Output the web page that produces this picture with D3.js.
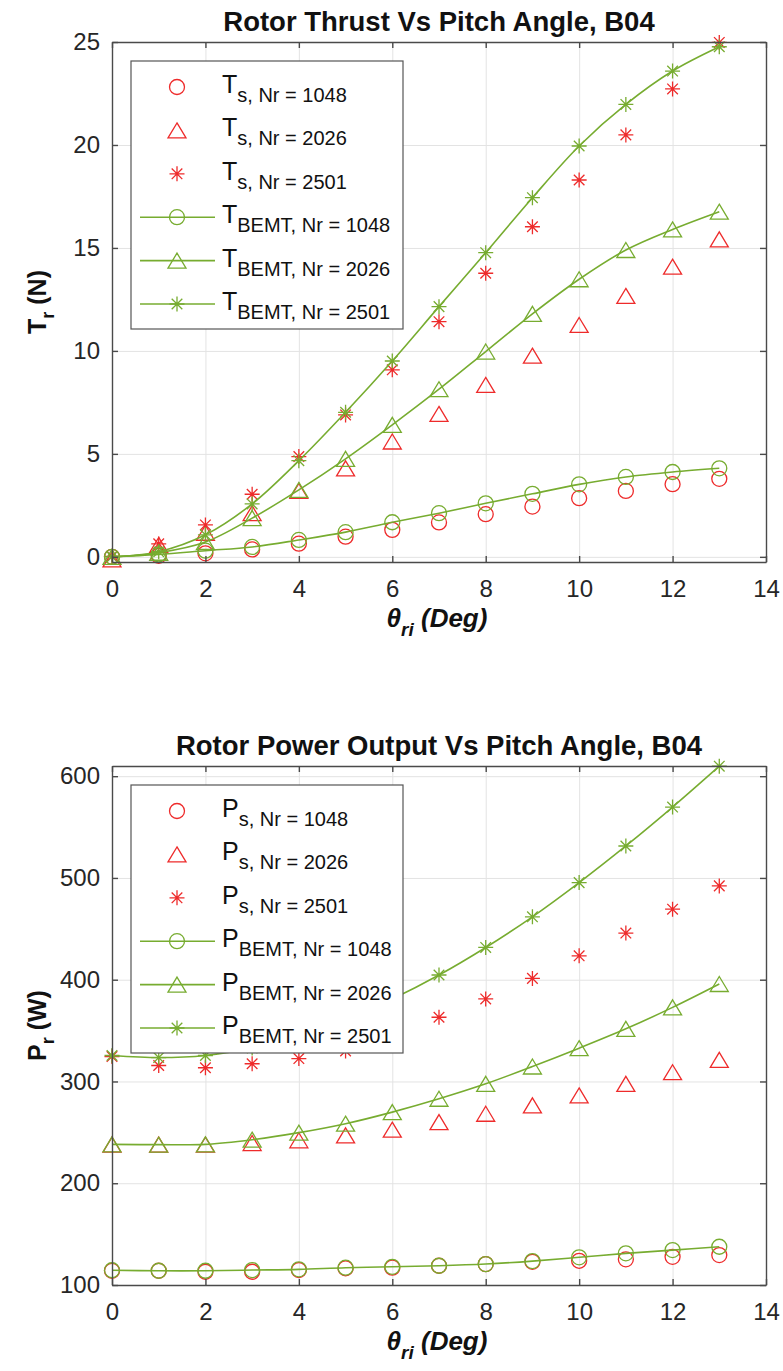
<!DOCTYPE html>
<html>
<head>
<meta charset="utf-8">
<script src="https://cdn.jsdelivr.net/npm/d3@7"></script>
<style>
  body { margin: 0; background: #fff; }
  svg { display: block; font-family: "Liberation Sans", Arial, Helvetica, sans-serif; }
  .grid line { stroke: #e3e3e3; stroke-width: 1; }
  .grid .domain { display: none; }
  .axis path, .axis line { stroke: #4a4a4a; stroke-width: 1.4; }
  .axis text { fill: #262626; font-size: 24px; }
</style>
</head>
<body>
<div id="chart"></div>
<script>
// ---- data ----
const pitch = [0, 1, 2, 3, 4, 5, 6, 7, 8, 9, 10, 11, 12, 13];

// rotor thrust (N)
const thrustS1048 = [0, 0.05, 0.17, 0.36, 0.64, 0.98, 1.31, 1.67, 2.07, 2.44, 2.85, 3.2, 3.53, 3.79];
const thrustS2026 = [-0.12, 0.58, 1.17, 2.12, 3.2, 4.3, 5.6, 6.94, 8.35, 9.77, 11.26, 12.67, 14.09, 15.42];
const thrustS2501 = [0.02, 0.63, 1.55, 3.04, 4.87, 6.89, 9.08, 11.42, 13.77, 16.03, 18.3, 20.49, 22.72, 24.98];
const thrustB1048 = [0, 0.12, 0.3, 0.48, 0.82, 1.2, 1.68, 2.12, 2.6, 3.06, 3.52, 3.88, 4.12, 4.3];
const thrustB2026 = [0, 0.2, 0.72, 1.88, 3.25, 4.76, 6.41, 8.14, 9.97, 11.8, 13.48, 14.9, 15.9, 16.76];
const thrustB2501 = [0, 0.25, 1.07, 2.57, 4.67, 7.02, 9.51, 12.15, 14.77, 17.44, 19.95, 21.97, 23.59, 24.77];

// rotor power output (W)
const powerS1048 = [114, 114, 113, 113, 114.7, 116.4, 117, 118.9, 120.6, 122.8, 123.8, 125.2, 127.7, 129.4];
const powerS2026 = [238, 238, 237.9, 239.5, 242.2, 247.1, 252.6, 260.1, 268.3, 276.5, 286.3, 297.7, 309.1, 321.3];
const powerS2501 = [324.5, 315.7, 313.5, 317.4, 322.5, 330, 345, 363.1, 381.1, 401.3, 423.5, 445.8, 469.3, 492.2];
const powerB1048 = [114.5, 114, 114, 114.7, 115.4, 117, 117.9, 118.9, 120.6, 123.5, 127.2, 131.1, 134.3, 137.6];
const powerB2026 = [238.2, 237.9, 238.2, 242.8, 249.7, 258.5, 269.9, 283, 297.7, 314.7, 332.7, 351.7, 372.8, 395.8];
const powerB2501 = [325.5, 323.5, 325.5, 333, 345, 361, 381, 404.6, 431.7, 461.8, 495.4, 531.4, 569.6, 609.8];

const xTicks = [0, 2, 4, 6, 8, 10, 12, 14];
const thrustTicks = [0, 5, 10, 15, 20, 25];
const powerTicks = [100, 200, 300, 400, 500, 600];
const speeds = ['1048', '2026', '2501'];

const RED = '#ee2b2b', GREEN = '#77ac30';
const W = 783, H = 1371;

const svg = d3.select('#chart').append('svg')
  .attr('width', W).attr('height', H).attr('viewBox', `0 0 ${W} ${H}`);

// marker shapes, MATLAB style
function marker(sel, kind, color) {
  if (kind === 'o') {
    sel.append('circle').attr('r', 7.5);
  } else if (kind === '^') {
    sel.append('path').attr('d', 'M0,-7.5L9,7.5L-9,7.5Z');
  } else {
    sel.append('path').attr('d', 'M-7.5,0L7.5,0M0,-7.5L0,7.5M-5.3,-5.3L5.3,5.3M-5.3,5.3L5.3,-5.3');
  }
  sel.selectAll('*').attr('fill', 'none').attr('stroke', color).attr('stroke-width', 1.3);
}

function panel(cfg) {
  const { top, bottom, yDomain, yTicks, sym, unit, title, titleY, series } = cfg;
  const left = 112, right = 766;
  const x = d3.scaleLinear().domain([0, 14]).range([left, right]);
  const y = d3.scaleLinear().domain(yDomain).range([bottom, top]);
  const g = svg.append('g');

  g.append('rect').attr('x', left).attr('y', top)
    .attr('width', right - left).attr('height', bottom - top).attr('fill', '#fff');

  // grid
  g.append('g').attr('class', 'grid').attr('transform', `translate(0,${bottom})`)
    .call(d3.axisBottom(x).tickValues(xTicks).tickSize(-(bottom - top)).tickFormat(''));
  g.append('g').attr('class', 'grid').attr('transform', `translate(${left},0)`)
    .call(d3.axisLeft(y).tickValues(yTicks).tickSize(-(right - left)).tickFormat(''));

  // data
  const line = d3.line().x(d => x(d[0])).y(d => y(d[1])).curve(d3.curveCatmullRom.alpha(0.5));
  const kinds = ['o', '^', '*'];
  series.s.forEach((vals, i) => {
    pitch.forEach((p, j) => {
      g.append('g').attr('transform', `translate(${x(p)},${y(vals[j])})`).call(marker, kinds[i], RED);
    });
  });
  series.b.forEach((vals, i) => {
    g.append('path').datum(pitch.map((p, j) => [p, vals[j]]))
      .attr('fill', 'none').attr('stroke', GREEN).attr('stroke-width', 1.6).attr('d', line);
    pitch.forEach((p, j) => {
      g.append('g').attr('transform', `translate(${x(p)},${y(vals[j])})`).call(marker, kinds[i], GREEN);
    });
  });

  // axes, ticks inward on all four sides
  g.append('g').attr('class', 'axis').attr('transform', `translate(0,${bottom})`)
    .call(d3.axisBottom(x).tickValues(xTicks).tickSize(-6).tickPadding(18).tickSizeOuter(0));
  g.append('g').attr('class', 'axis').attr('transform', `translate(${left},0)`)
    .call(d3.axisLeft(y).tickValues(yTicks).tickSize(-6).tickPadding(12).tickSizeOuter(0));
  g.append('g').attr('class', 'axis').attr('transform', `translate(0,${top})`)
    .call(d3.axisTop(x).tickValues(xTicks).tickSize(-6).tickFormat('').tickSizeOuter(0));
  g.append('g').attr('class', 'axis').attr('transform', `translate(${right},0)`)
    .call(d3.axisRight(y).tickValues(yTicks).tickSize(-6).tickFormat('').tickSizeOuter(0));
  g.selectAll('.axis text').attr('fill', '#262626');

  // title
  g.append('text').attr('x', (left + right) / 2).attr('y', titleY)
    .attr('text-anchor', 'middle').attr('font-size', 27.5).attr('font-weight', 'bold')
    .attr('fill', '#111').text(title);

  // y label
  const yl = g.append('text')
    .attr('transform', `translate(46,${(top + bottom) / 2}) rotate(-90)`)
    .attr('text-anchor', 'middle').attr('font-size', 25).attr('font-weight', 'bold').attr('fill', '#111');
  yl.append('tspan').text(sym);
  yl.append('tspan').attr('dy', 8).attr('font-size', 18).text('r');
  yl.append('tspan').attr('dy', -8).text(` (${unit})`);

  // x label
  const xl = g.append('text').attr('x', (left + right) / 2 - 2).attr('y', bottom + 65)
    .attr('text-anchor', 'middle').attr('font-size', 26).attr('font-weight', 'bold')
    .attr('font-style', 'italic').attr('fill', '#111');
  xl.append('tspan').text('θ');
  xl.append('tspan').attr('dy', 9).attr('font-size', 19).text('ri');
  xl.append('tspan').attr('dy', -9).text(' (Deg)');

  // legend
  const lgTop = top + 19;
  const leg = g.append('g');
  leg.append('rect').attr('x', 131).attr('y', lgTop).attr('width', 272).attr('height', 268)
    .attr('fill', '#fff').attr('stroke', '#555').attr('stroke-width', 1.2);
  const entries = [
    ...speeds.map((s, i) => ({ sub: `s, Nr = ${s}`, kind: kinds[i], color: RED, line: false })),
    ...speeds.map((s, i) => ({ sub: `BEMT, Nr = ${s}`, kind: kinds[i], color: GREEN, line: true }))
  ];
  entries.forEach((e, i) => {
    const cy = lgTop + 26 + i * 43.4;
    if (e.line) {
      leg.append('line').attr('x1', 140).attr('x2', 215).attr('y1', cy).attr('y2', cy)
        .attr('stroke', e.color).attr('stroke-width', 1.6);
    }
    leg.append('g').attr('transform', `translate(177,${cy})`).call(marker, e.kind, e.color);
    const t = leg.append('text').attr('x', 222).attr('y', cy + 6).attr('fill', '#111').attr('font-size', 25);
    t.append('tspan').text(sym);
    t.append('tspan').attr('dy', 9).attr('font-size', 20).text(e.sub);
  });
}

panel({
  top: 42, bottom: 562, yDomain: [-0.25, 25], yTicks: thrustTicks,
  sym: 'T', unit: 'N', title: 'Rotor Thrust Vs Pitch Angle, B04', titleY: 31,
  series: { s: [thrustS1048, thrustS2026, thrustS2501], b: [thrustB1048, thrustB2026, thrustB2501] }
});

panel({
  top: 766, bottom: 1285, yDomain: [100, 610], yTicks: powerTicks,
  sym: 'P', unit: 'W', title: 'Rotor Power Output Vs Pitch Angle, B04', titleY: 755,
  series: { s: [powerS1048, powerS2026, powerS2501], b: [powerB1048, powerB2026, powerB2501] }
});
</script>
</body>
</html>
